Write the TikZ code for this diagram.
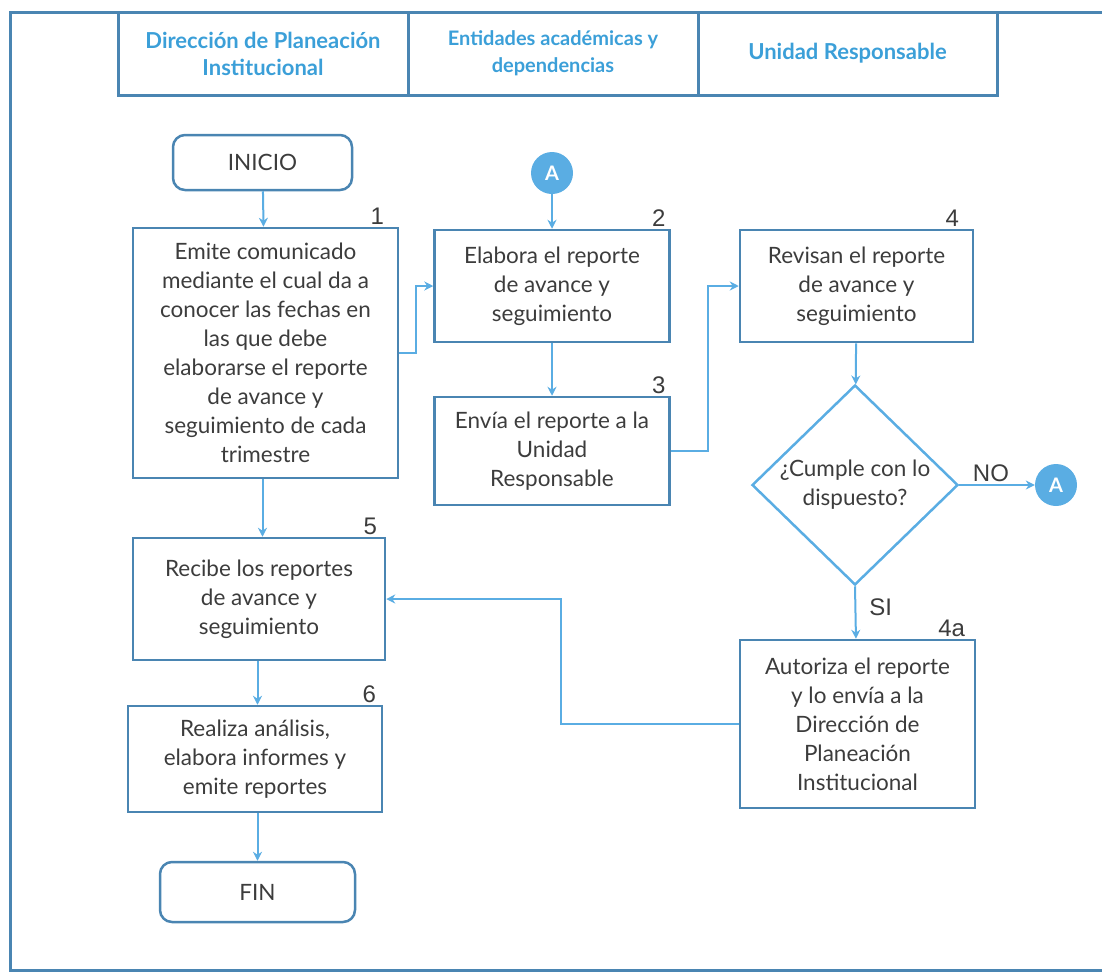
\documentclass[tikz,border=0pt]{standalone}
\usepackage{fontspec}
\setmainfont{Lato}
\newfontfamily\numfont{Liberation Sans}
\usetikzlibrary{positioning,arrows.meta,shapes.geometric}
\definecolor{frameblue}{HTML}{4A85B2}
\definecolor{flowblue}{HTML}{5AADE3}
\definecolor{headblue}{HTML}{3B9FD8}
\definecolor{txtgray}{HTML}{3C3C3C}
\tikzset{
  procbox/.style={draw=frameblue, line width=2.5pt, align=center, text=txtgray,
    font=\fontsize{22.5}{29}\selectfont, inner sep=0pt},
  termbox/.style={procbox, rounded corners=12pt},
  headbox/.style={draw=frameblue, line width=3pt, align=center, text=headblue,
    font=\bfseries\fontsize{22}{27}\selectfont, inner sep=0pt,
    minimum height=83pt},
  decision/.style={diamond, draw=flowblue, line width=2.5pt, align=center, text=txtgray,
    font=\fontsize{22.5}{29}\selectfont, inner sep=0pt,
    minimum width=206pt, minimum height=200pt},
  connector/.style={circle, fill=flowblue, text=white, font=\bfseries\fontsize{20}{20}\selectfont,
    minimum size=42pt, inner sep=0pt},
  stepnum/.style={text=txtgray, font=\numfont\fontsize{24}{24}\selectfont, inner sep=1pt},
  flow/.style={draw=flowblue, line width=2pt, -{Stealth[length=9pt,width=9pt]}},
}
\begin{document}
\begin{tikzpicture}[x=1pt, y=-1pt]
  \useasboundingbox (0,0) rectangle (1102,975);
  % outer frame
  \draw[frameblue, line width=3pt] (1110,12) -- (10,12) -- (10,970) -- (1110,970);

  % headers
  \node[headbox, minimum width=290pt] (h1) at (263,53.5) {Dirección de Planeación\\Institucional};
  \node[headbox, minimum width=290pt, font=\bfseries\fontsize{20}{27}\selectfont] (h2) at (553,53.5) {Entidades académicas y\\dependencias};
  \node[headbox, minimum width=299pt] (h3) at (847.5,53.5) {Unidad Responsable};

  % column 1
  \node[termbox, minimum width=179pt, minimum height=55pt] (ini) at (262.5,162.5) {INICIO};
  \node[procbox, minimum width=265pt, minimum height=250pt] (b1) at (265.5,353)
    {Emite comunicado\\mediante el cual da a\\conocer las fechas en\\las que debe\\elaborarse el reporte\\de avance y\\seguimiento de cada\\trimestre};
  \node[procbox, minimum width=252pt, minimum height=122pt] (b5) at (259,599)
    {Recibe los reportes\\de avance y\\seguimiento};
  \node[procbox, minimum width=254pt, minimum height=106pt] (b6) at (255,759)
    {Realiza análisis,\\elabora informes y\\emite reportes};
  \node[termbox, minimum width=195pt, minimum height=60pt] (fin) at (257.5,892) {FIN};

  % column 2
  \node[connector] (conA) at (552,173) {A};
  \node[procbox, minimum width=235pt, minimum height=112pt] (b2) at (552,286)
    {Elabora el reporte\\de avance y\\seguimiento};
  \node[procbox, minimum width=235pt, minimum height=108pt] (b3) at (552,451)
    {Envía el reporte a la\\Unidad\\Responsable};

  % column 3
  \node[procbox, minimum width=233pt, minimum height=112pt] (b4) at (856.5,286)
    {Revisan el reporte\\de avance y\\seguimiento};
  \node[decision] (dec) at (855,485) {¿Cumple con lo\\dispuesto?};
  \node[connector] (conB) at (1056,485) {A};
  \node[procbox, minimum width=235pt, minimum height=168pt] (b4a) at (857.5,724)
    {Autoriza el reporte\\y lo envía a la\\Dirección de\\Planeación\\Institucional};

  % step numbers
  \node[stepnum, above left=1pt and 14pt of b1.north east, anchor=south east] {1};
  \node[stepnum, above left=1pt and 4pt of b2.north east, anchor=south east] {2};
  \node[stepnum, above left=1pt and 4pt of b3.north east, anchor=south east] {3};
  \node[stepnum, above left=1pt and 14pt of b4.north east, anchor=south east] {4};
  \node[stepnum, above left=1pt and 10pt of b4a.north east, anchor=south east] {4a};
  \node[stepnum, above left=1pt and 8pt of b5.north east, anchor=south east] {5};
  \node[stepnum, above left=1pt and 6pt of b6.north east, anchor=south east] {6};

  % connectors
  \draw[flow] (ini) -- (b1);
  \draw[flow] (b1.south -| ini.south) -- (b5.north -| ini.south);
  \draw[flow] (b5.south -| fin.north) -- (b6.north -| fin.north);
  \draw[flow] (b6.south -| fin.north) -- (fin);
  \draw[flow] (conA) -- (b2);
  \draw[flow] (b2) -- (b3);
  \draw[flow] (b1.east) -- ++(17,0) |- (b2.west);
  \draw[flow] (b3.east) -- ++(37,0) |- (b4.west);
  \draw[flow] (b4) -- (dec);
  \draw[flow] (dec.east) -- node[stepnum, above=1pt, pos=0.42] {NO} (conB);
  \draw[flow] (dec.south) -- node[stepnum, right=12pt, pos=0.4] {SI} (b4a);
  \draw[flow] (b4a.west) -- ++(-178,0) |- (b5.east);
\end{tikzpicture}
\end{document}
